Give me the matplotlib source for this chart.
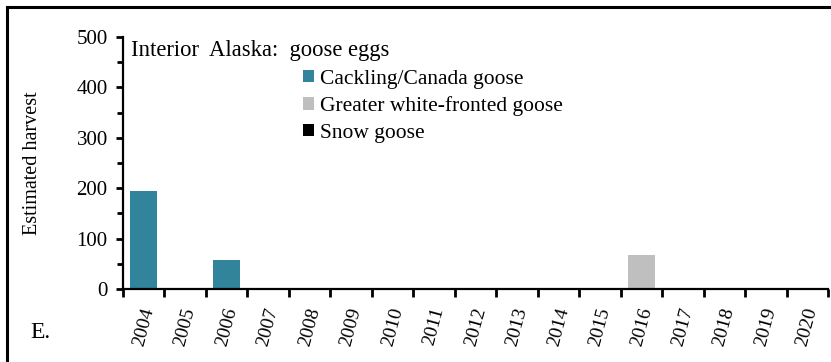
import matplotlib.pyplot as plt
import numpy as np
from matplotlib.lines import Line2D
from matplotlib.patches import Patch
from matplotlib.ticker import MultipleLocator

plt.rcParams['font.family'] = ['Liberation Serif', 'DejaVu Serif']

years = [str(y) for y in range(2004, 2021)]
cackling = [195, 0, 57, 0, 0, 0, 0, 0, 0, 0, 0, 0, 0, 0, 0, 0, 0]
white_fronted = [0, 0, 0, 0, 0, 0, 0, 0, 0, 0, 0, 0, 67, 0, 0, 0, 0]
snow = [0] * 17

series_names = ['Cackling/Canada goose', 'Greater white-fronted goose', 'Snow goose']
colors = ['#31849B', '#BFBFBF', '#000000']

fig = plt.figure(figsize=(8.31, 3.62), dpi=100)
ax = fig.add_axes([123 / 831, 73 / 362, 705 / 831, 252 / 362])

x = np.arange(len(years))
bottom = np.zeros(len(years))
for vals, c in zip([cackling, white_fronted, snow], colors):
    ax.bar(x, vals, width=0.65, bottom=bottom, color=c, edgecolor='none')
    bottom += np.array(vals)

ax.set_xlim(-0.5, len(years) - 0.5)
ax.set_ylim(0, 500)
ax.yaxis.set_major_locator(MultipleLocator(100))
ax.yaxis.set_minor_locator(MultipleLocator(50))

# x ticks sit between categories (Excel style), labels centred on bars
ax.set_xticks(np.arange(-0.5, len(years), 1.0))
ax.set_xticklabels([])
ax.set_xticks(x, minor=True)
ax.set_xticklabels(years, minor=True, rotation=75, ha='center', va='top', fontsize=14)
ax.tick_params(axis='x', which='major', direction='out', length=6, width=2)
ax.tick_params(axis='x', which='minor', length=0, pad=12)
ax.tick_params(axis='y', which='major', direction='out', length=5, width=2, labelsize=15, pad=6)
ax.tick_params(axis='y', which='minor', direction='out', length=4, width=2)

for s in ['top', 'right']:
    ax.spines[s].set_visible(False)
for s in ['left', 'bottom']:
    ax.spines[s].set_linewidth(1.6)

ax.set_ylabel('Estimated harvest', fontsize=14.5, labelpad=25)

ax.text(0.012, 0.99, 'Interior  Alaska:  goose eggs', transform=ax.transAxes,
        fontsize=16.3, va='top', ha='left')

handles = [Patch(facecolor=c, label=n) for c, n in zip(colors, series_names)]
ax.legend(handles=handles, loc='upper left', bbox_to_anchor=(0.243, 0.905), frameon=False,
          fontsize=15.5, handlelength=0.5, handleheight=0.5, handletextpad=0.3,
          labelspacing=0.36, borderaxespad=0)

fig.text(30 / 831, 1 - 332 / 362, 'E.', fontsize=17, ha='left', va='center')

# outer frame (top and left edges visible)
fig.add_artist(Line2D([7 / 831, 7 / 831], [0, 1 - 7 / 362], transform=fig.transFigure,
                      color='black', linewidth=2.2))
fig.add_artist(Line2D([7 / 831, 1], [1 - 7 / 362, 1 - 7 / 362], transform=fig.transFigure,
                      color='black', linewidth=2.2))

fig.savefig('out.png', dpi=100)
